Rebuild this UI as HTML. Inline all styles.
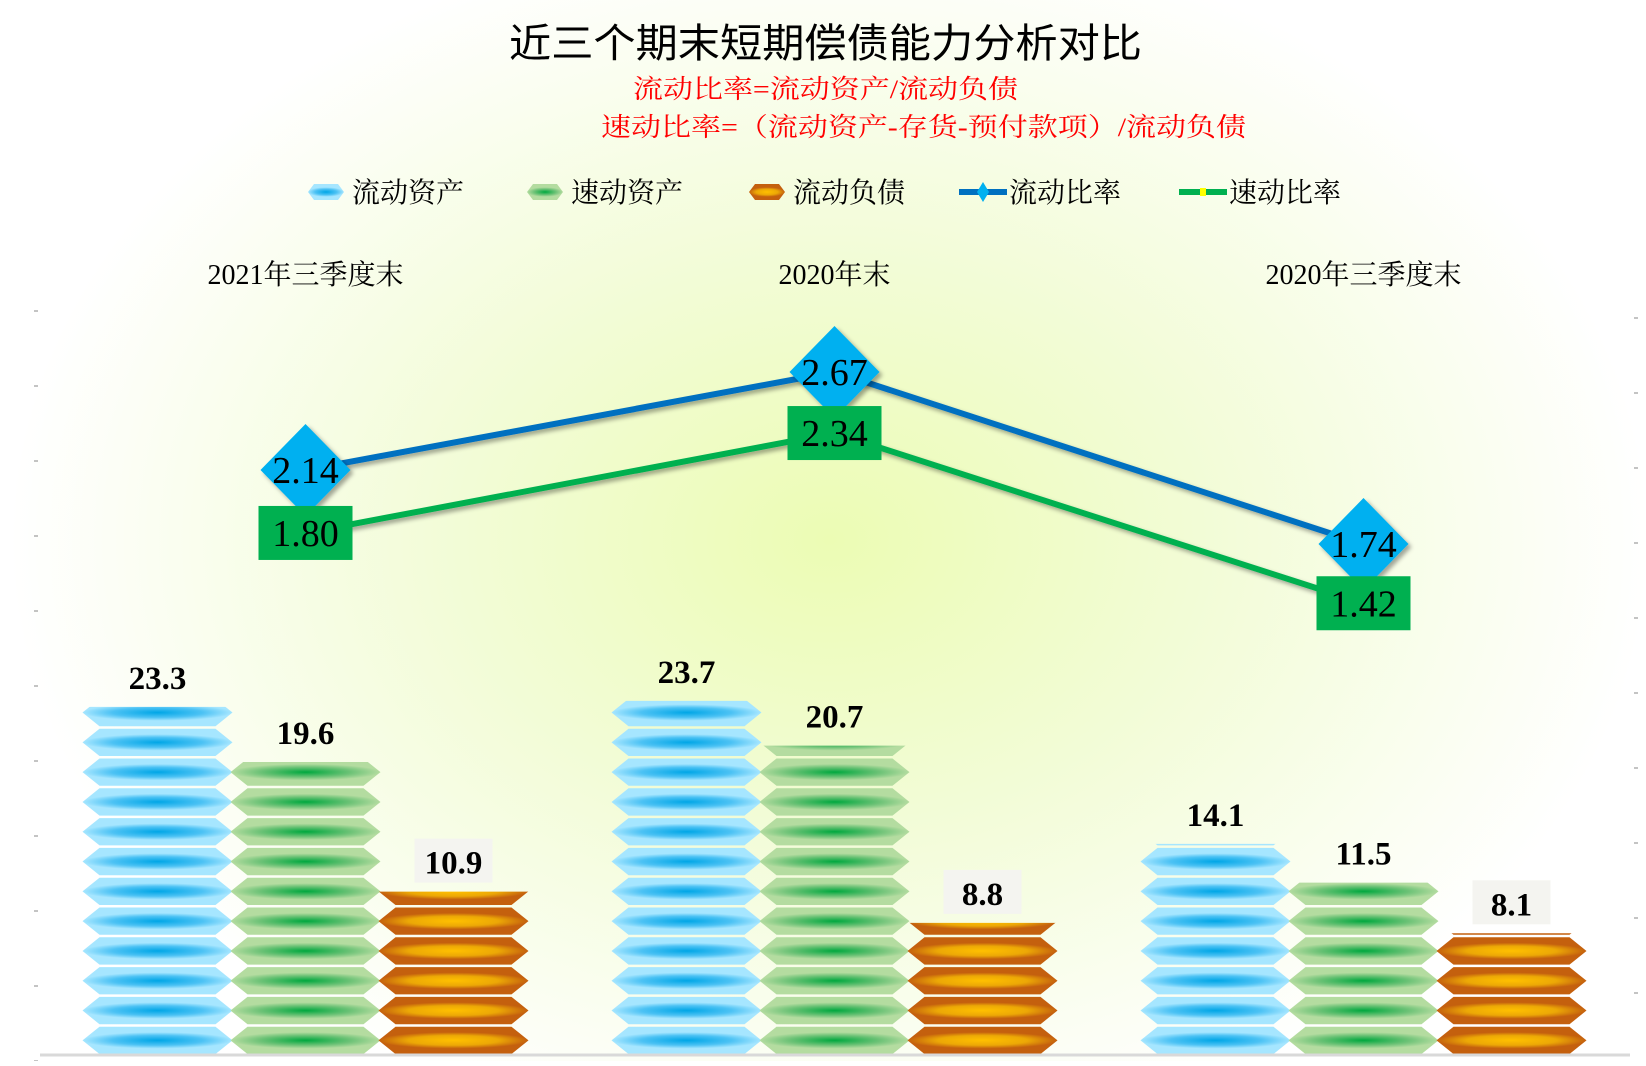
<!DOCTYPE html>
<html><head><meta charset="utf-8"><style>
html,body{margin:0;padding:0;background:#fff}
svg text{font-family:"Liberation Serif","Noto Serif CJK SC",serif}
</style></head><body>
<svg xmlns="http://www.w3.org/2000/svg" width="1646" height="1061" viewBox="0 0 1646 1061">
<defs>
<radialGradient id="bg" cx="830" cy="540" r="820" gradientUnits="userSpaceOnUse" gradientTransform="translate(830 540) scale(1 0.75) translate(-830 -540)">
<stop offset="0" stop-color="#ecfcb4"/><stop offset="0.45" stop-color="#f2fcd6"/><stop offset="1" stop-color="#ffffff"/></radialGradient>
<radialGradient id="gBlue" cx="0.5" cy="0.5" r="0.5" gradientTransform="translate(0.5 0.5) scale(1 0.6) translate(-0.5 -0.5)"><stop offset="0" stop-color="#00a6e6"/><stop offset="0.6" stop-color="#4cc2f4"/><stop offset="1" stop-color="#a6e6ff"/></radialGradient>
<radialGradient id="gGreen" cx="0.5" cy="0.5" r="0.5" gradientTransform="translate(0.5 0.5) scale(1 0.6) translate(-0.5 -0.5)"><stop offset="0" stop-color="#00a83e"/><stop offset="0.6" stop-color="#6cc276"/><stop offset="1" stop-color="#b4dca0"/></radialGradient>
<radialGradient id="gOrange" cx="0.5" cy="0.5" r="0.5" gradientTransform="translate(0.5 0.5) scale(1 0.6) translate(-0.5 -0.5)"><stop offset="0" stop-color="#ffc000"/><stop offset="0.6" stop-color="#eca806"/><stop offset="1" stop-color="#c4600e"/></radialGradient>
<filter id="sh" x="-30%" y="-30%" width="160%" height="160%"><feDropShadow dx="3" dy="3" stdDeviation="2" flood-color="#000" flood-opacity="0.35"/></filter>
</defs>
<rect x="0" y="0" width="1646" height="1061" fill="url(#bg)"/>
<text x="509" y="57" font-size="40" style="font-family:'Liberation Sans','Noto Sans CJK SC',sans-serif" fill="#000" textLength="633" lengthAdjust="spacingAndGlyphs">近三个期末短期偿债能力分析对比</text>
<text x="633" y="98" font-size="26" fill="#ff0000" textLength="385" lengthAdjust="spacingAndGlyphs">流动比率=流动资产/流动负债</text>
<text x="601" y="136" font-size="26" fill="#ff0000" textLength="645" lengthAdjust="spacingAndGlyphs">速动比率=（流动资产-存货-预付款项）/流动负债</text>
<g id="legend"></g>
<g id="cats"></g>
<g id="ticks"></g>
<g id="bars"></g>
<line x1="40" y1="1055" x2="1630" y2="1055" stroke="#d9d9d9" stroke-width="3"/>
<g id="lines"></g>
</svg>
<script>
const categories=["2021年三季度末","2020年末","2020年三季度末"];
const currentAssets=[23.3,23.7,14.1];
const quickAssets=[19.6,20.7,11.5];
const currentLiab=[10.9,8.8,8.1];
const currentRatio=[2.14,2.67,1.74];
const quickRatio=[1.80,2.34,1.42];
const leftTicks=[0,1,2,3,4,5,6,7,8,9,10];

const NS="http://www.w3.org/2000/svg";
function mk(tag,attrs,parent){const e=document.createElementNS(NS,tag);for(const k in attrs)e.setAttribute(k,attrs[k]);if(parent)parent.appendChild(e);return e;}
const plotL=41,catW=529,base=1054,unitPx=14.9;
const xCat=i=>plotL+catW*i+catW/2;
const yBar=v=>base-v*unitPx;
const yRatio=v=>372+(2.67-v)*185;

// legend
const lg=document.getElementById('legend');
const legendItems=[["流动资产","url(#gBlue)","bar"],["速动资产","url(#gGreen)","bar"],["流动负债","url(#gOrange)","bar"],["流动比率","#0070c0","line"],["速动比率","#00b050","line2"]];
const lgX=[326,545,767,983,1203];
legendItems.forEach((it,i)=>{
  const g=mk('g',{},lg);
  
  
  const x=lgX[i],y=192;
  if(it[2]==='bar'){mk('polygon',{points:`${x-18},${y} ${x-12},${y-8} ${x+12},${y-8} ${x+18},${y} ${x+12},${y+8} ${x-12},${y+8}`,fill:it[1]},g);}
  else{mk('line',{x1:x-24,y1:y,x2:x+24,y2:y,stroke:it[1],'stroke-width':6},g);
    if(it[2]==='line')mk('polygon',{points:`${x},${y-10} ${x+6},${y} ${x},${y+10} ${x-6},${y}`,fill:'#00b0f0'},g);
    else mk('rect',{x:x-3,y:y-4,width:6,height:8,fill:'#ffff00'},g);}
  const t=mk('text',{x:x+26,y:y+10,'font-size':28,fill:'#000'},g);t.textContent=it[0];
});
// categories
const cg=document.getElementById('cats');
categories.forEach((c,i)=>{const t=mk('text',{x:xCat(i),y:284,'text-anchor':'middle','font-size':28,fill:'#000'},cg);
  t.textContent=c;});
// ticks
const tg=document.getElementById('ticks');
leftTicks.forEach(k=>{mk('line',{x1:34,x2:38,y1:311+75*k,y2:311+75*k,stroke:'#888','stroke-width':1},tg);
  mk('line',{x1:1634,x2:1638,y1:318+75*k,y2:318+75*k,stroke:'#888','stroke-width':1},tg);});
// bars
const bg=document.getElementById('bars');
const series=[[currentAssets,'url(#gBlue)',-148,'blue'],[quickAssets,'url(#gGreen)',0,'green'],[currentLiab,'url(#gOrange)',148,'orange']];
let cid=0;
series.forEach(s=>{
  s[0].forEach((v,i)=>{
    const w=150,x=xCat(i)+s[2]-w/2,top=yBar(v);
    const g=mk('g',{},bg);
    
    
    const id='clip'+(cid++);
    const cp=mk('clipPath',{id:id},g);mk('rect',{x:x-2,y:top,width:w+4,height:base-top},cp);
    const tg2=mk('g',{'clip-path':`url(#${id})`},g);
    const n=Math.ceil(v/2);
    for(let k=0;k<n;k++){
      const yb=base-k*2*unitPx,yt=yb-2*unitPx+2.5,ym=(yb+yt)/2;
      mk('polygon',{points:`${x},${ym} ${x+17},${yt} ${x+w-17},${yt} ${x+w},${ym} ${x+w-17},${yb} ${x+17},${yb}`,fill:s[1]},tg2);
    }
    const lx=xCat(i)+s[2],ly=top-18;
    if(s[3]==='orange')mk('rect',{x:lx-39,y:ly-35,width:78,height:44,fill:'#f4f4f0'},g);
    const t=mk('text',{x:lx,y:ly,'text-anchor':'middle','font-size':33,'font-weight':'bold',fill:'#000'},g);
    
    t.textContent=v.toFixed(1);
  });
});
// lines
const lgp=document.getElementById('lines');
function drawLine(vals,color,name){
  const pts=vals.map((v,i)=>`${xCat(i)},${yRatio(v)}`).join(' ');
  const pl=mk('polyline',{points:pts,fill:'none',stroke:color,'stroke-width':6,filter:'url(#sh)'},lgp);
  
}
drawLine(quickRatio,'#00b050','quick-ratio');
drawLine(currentRatio,'#0070c0','current-ratio');
currentRatio.forEach((v,i)=>{const x=xCat(i),y=yRatio(v);
  const g=mk('g',{},lgp);
  mk('polygon',{points:`${x},${y-46} ${x+45},${y} ${x},${y+46} ${x-45},${y}`,fill:'#00b0f0',filter:'url(#sh)'},g);
  const t=mk('text',{x:x,y:y+13,'text-anchor':'middle','font-size':38,fill:'#000'},g);t.textContent=v.toFixed(2);});
quickRatio.forEach((v,i)=>{const x=xCat(i),y=yRatio(v);
  const g=mk('g',{},lgp);
  mk('rect',{x:x-47,y:y-27,width:94,height:54,fill:'#00b050'},g);
  const t=mk('text',{x:x,y:y+13,'text-anchor':'middle','font-size':38,fill:'#000'},g);t.textContent=v.toFixed(2);});
</script>
</body></html>
